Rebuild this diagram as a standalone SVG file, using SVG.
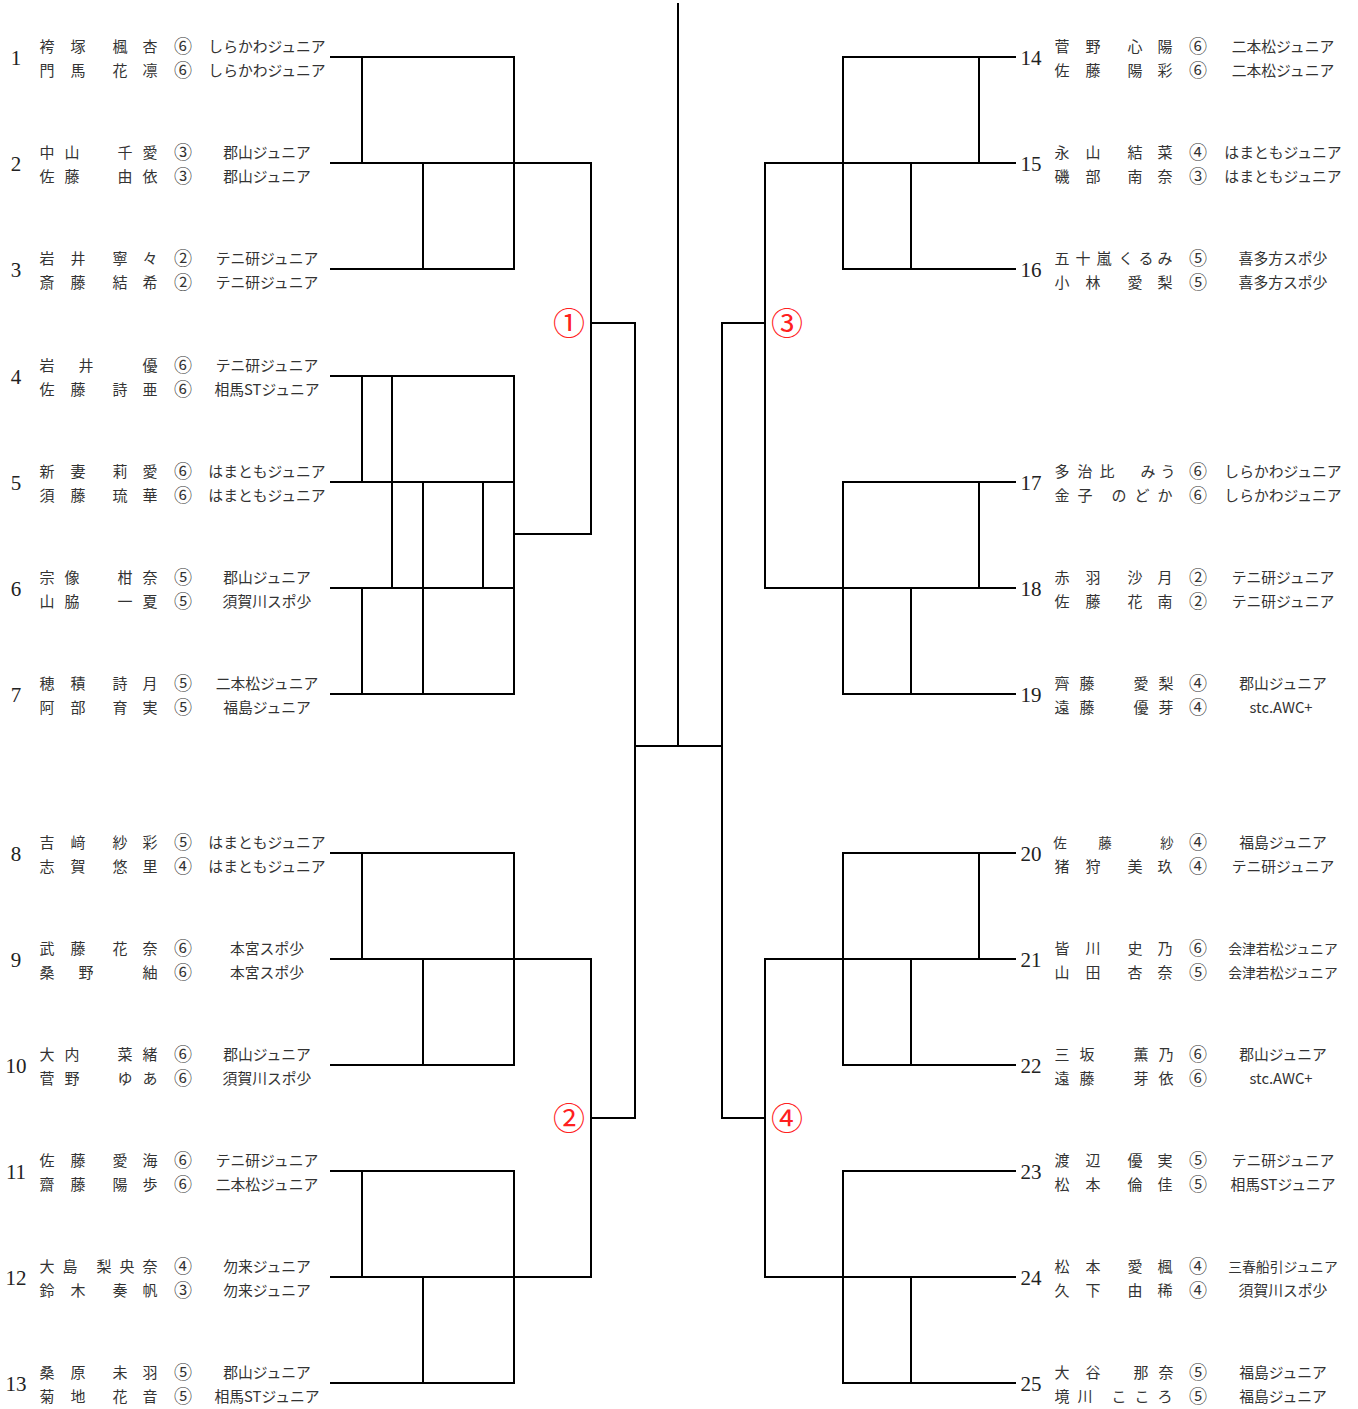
<svg xmlns="http://www.w3.org/2000/svg" width="1358" height="1409" viewBox="0 0 1358 1409">
<style>
.n{font-family:"Liberation Serif",serif;font-size:21px;text-anchor:middle;fill:#222}
.j{font-family:"Noto Sans CJK JP",sans-serif;font-size:15px;text-anchor:middle;fill:#333}
.g{font-family:"Noto Sans CJK JP",sans-serif;font-size:18px;text-anchor:middle;fill:#333}
.t{font-family:"Noto Sans CJK JP",sans-serif;font-size:14.8px;text-anchor:middle;fill:#333}
.ts{font-family:"Noto Sans CJK JP",sans-serif;font-size:13.8px;text-anchor:middle;fill:#333}
.js{font-family:"Noto Sans CJK JP",sans-serif;font-size:13.5px;text-anchor:middle;fill:#333}
.r{font-family:"Noto Sans CJK JP",sans-serif;font-size:32px;text-anchor:middle;fill:#ff2020}
.c path{fill:none;stroke:#000;stroke-width:2;stroke-linecap:square}
</style>
<rect width="1358" height="1409" fill="#fff"/>
<g class="c" id="connectors">
<path d="M678 4V746M635 746H722"/>
<path d="M635 323V1118M591 323H635M591 1118H635"/>
<path d="M722 323V1118M722 323H765M722 1118H765"/>
<path d="M331 57H514M362 57V163M514 57V269M331 163H591M423 163V269M331 269H514M591 163V534M514 534H591"/>
<path d="M331 376H514M362 376V482M392 376V588M514 376V694M331 482H514M423 482V694M483 482V588M331 588H514M362 588V694M331 694H514"/>
<path d="M331 853H514M362 853V959M514 853V1065M331 959H591M423 959V1065M331 1065H514M591 959V1277"/>
<path d="M331 1171H514M362 1171V1277M514 1171V1383M331 1277H591M423 1277V1383M331 1383H514"/>
<path d="M843 57H1015M843 57V269M979 57V163M765 163H1015M911 163V269M843 269H1015M765 163V588"/>
<path d="M843 482H1015M843 482V694M979 482V588M765 588H1015M911 588V694M843 694H1015"/>
<path d="M843 853H1015M843 853V1065M979 853V959M765 959H1015M911 959V1065M843 1065H1015M765 959V1277"/>
<path d="M843 1171H1015M843 1171V1383M765 1277H1015M911 1277V1383M843 1383H1015"/>
</g>
<g id="round-labels">
<text class="r" x="569" y="335">①</text>
<text class="r" x="569" y="1130">②</text>
<text class="r" x="787" y="335">③</text>
<text class="r" x="787" y="1130">④</text>
</g>
<g id="e1"><text class="n" x="16" y="65">1</text><text class="j" x="47 78 120 150" y="52">袴塚楓杏</text><text class="g" x="183" y="53">⑥</text><text class="t" x="267" y="52">しらかわジュニア</text><text class="j" x="47 78 120 150" y="76">門馬花凛</text><text class="g" x="183" y="77">⑥</text><text class="t" x="267" y="76">しらかわジュニア</text></g>
<g id="e2"><text class="n" x="16" y="171">2</text><text class="j" x="47 72 125 150" y="158">中山千愛</text><text class="g" x="183" y="159">③</text><text class="t" x="267" y="158">郡山ジュニア</text><text class="j" x="47 72 125 150" y="182">佐藤由依</text><text class="g" x="183" y="183">③</text><text class="t" x="267" y="182">郡山ジュニア</text></g>
<g id="e3"><text class="n" x="16" y="277">3</text><text class="j" x="47 78 120 150" y="264">岩井寧々</text><text class="g" x="183" y="265">②</text><text class="t" x="267" y="264">テニ研ジュニア</text><text class="j" x="47 78 120 150" y="288">斎藤結希</text><text class="g" x="183" y="289">②</text><text class="t" x="267" y="288">テニ研ジュニア</text></g>
<g id="e4"><text class="n" x="16" y="384">4</text><text class="j" x="47 86 150" y="371">岩井優</text><text class="g" x="183" y="372">⑥</text><text class="t" x="267" y="371">テニ研ジュニア</text><text class="j" x="47 78 120 150" y="395">佐藤詩亜</text><text class="g" x="183" y="396">⑥</text><text class="t" x="267" y="395">相馬STジュニア</text></g>
<g id="e5"><text class="n" x="16" y="490">5</text><text class="j" x="47 78 120 150" y="477">新妻莉愛</text><text class="g" x="183" y="478">⑥</text><text class="t" x="267" y="477">はまともジュニア</text><text class="j" x="47 78 120 150" y="501">須藤琉華</text><text class="g" x="183" y="502">⑥</text><text class="t" x="267" y="501">はまともジュニア</text></g>
<g id="e6"><text class="n" x="16" y="596">6</text><text class="j" x="47 72 125 150" y="583">宗像柑奈</text><text class="g" x="183" y="584">⑤</text><text class="t" x="267" y="583">郡山ジュニア</text><text class="j" x="47 72 125 150" y="607">山脇一夏</text><text class="g" x="183" y="608">⑤</text><text class="t" x="267" y="607">須賀川スポ少</text></g>
<g id="e7"><text class="n" x="16" y="702">7</text><text class="j" x="47 78 120 150" y="689">穂積詩月</text><text class="g" x="183" y="690">⑤</text><text class="t" x="267" y="689">二本松ジュニア</text><text class="j" x="47 78 120 150" y="713">阿部育実</text><text class="g" x="183" y="714">⑤</text><text class="t" x="267" y="713">福島ジュニア</text></g>
<g id="e8"><text class="n" x="16" y="861">8</text><text class="j" x="47 78 120 150" y="848">吉﨑紗彩</text><text class="g" x="183" y="849">⑤</text><text class="t" x="267" y="848">はまともジュニア</text><text class="j" x="47 78 120 150" y="872">志賀悠里</text><text class="g" x="183" y="873">④</text><text class="t" x="267" y="872">はまともジュニア</text></g>
<g id="e9"><text class="n" x="16" y="967">9</text><text class="j" x="47 78 120 150" y="954">武藤花奈</text><text class="g" x="183" y="955">⑥</text><text class="t" x="267" y="954">本宮スポ少</text><text class="j" x="47 86 150" y="978">桑野紬</text><text class="g" x="183" y="979">⑥</text><text class="t" x="267" y="978">本宮スポ少</text></g>
<g id="e10"><text class="n" x="16" y="1073">10</text><text class="j" x="47 72 125 150" y="1060">大内菜緒</text><text class="g" x="183" y="1061">⑥</text><text class="t" x="267" y="1060">郡山ジュニア</text><text class="j" x="47 72 125 150" y="1084">菅野ゆあ</text><text class="g" x="183" y="1085">⑥</text><text class="t" x="267" y="1084">須賀川スポ少</text></g>
<g id="e11"><text class="n" x="16" y="1179">11</text><text class="j" x="47 78 120 150" y="1166">佐藤愛海</text><text class="g" x="183" y="1167">⑥</text><text class="t" x="267" y="1166">テニ研ジュニア</text><text class="j" x="47 78 120 150" y="1190">齋藤陽歩</text><text class="g" x="183" y="1191">⑥</text><text class="t" x="267" y="1190">二本松ジュニア</text></g>
<g id="e12"><text class="n" x="16" y="1285">12</text><text class="j" x="47 70 104 127 150" y="1272">大島梨央奈</text><text class="g" x="183" y="1273">④</text><text class="t" x="267" y="1272">勿来ジュニア</text><text class="j" x="47 78 120 150" y="1296">鈴木奏帆</text><text class="g" x="183" y="1297">③</text><text class="t" x="267" y="1296">勿来ジュニア</text></g>
<g id="e13"><text class="n" x="16" y="1391">13</text><text class="j" x="47 78 120 150" y="1378">桑原未羽</text><text class="g" x="183" y="1379">⑤</text><text class="t" x="267" y="1378">郡山ジュニア</text><text class="j" x="47 78 120 150" y="1402">菊地花音</text><text class="g" x="183" y="1403">⑤</text><text class="t" x="267" y="1402">相馬STジュニア</text></g>
<g id="e14"><text class="n" x="1031" y="65">14</text><text class="j" x="1062 1093 1135 1165" y="52">菅野心陽</text><text class="g" x="1198" y="53">⑥</text><text class="t" x="1283" y="52">二本松ジュニア</text><text class="j" x="1062 1093 1135 1165" y="76">佐藤陽彩</text><text class="g" x="1198" y="77">⑥</text><text class="t" x="1283" y="76">二本松ジュニア</text></g>
<g id="e15"><text class="n" x="1031" y="171">15</text><text class="j" x="1062 1093 1135 1165" y="158">永山結菜</text><text class="g" x="1198" y="159">④</text><text class="t" x="1283" y="158">はまともジュニア</text><text class="j" x="1062 1093 1135 1165" y="182">磯部南奈</text><text class="g" x="1198" y="183">③</text><text class="t" x="1283" y="182">はまともジュニア</text></g>
<g id="e16"><text class="n" x="1031" y="277">16</text><text class="j" x="1062 1083 1104 1126 1146 1165" y="264">五十嵐くるみ</text><text class="g" x="1198" y="265">⑤</text><text class="t" x="1283" y="264">喜多方スポ少</text><text class="j" x="1062 1093 1135 1165" y="288">小林愛梨</text><text class="g" x="1198" y="289">⑤</text><text class="t" x="1283" y="288">喜多方スポ少</text></g>
<g id="e17"><text class="n" x="1031" y="490">17</text><text class="j" x="1062 1085 1107 1148 1168" y="477">多治比みう</text><text class="g" x="1198" y="478">⑥</text><text class="t" x="1283" y="477">しらかわジュニア</text><text class="j" x="1062 1085 1119 1142 1165" y="501">金子のどか</text><text class="g" x="1198" y="502">⑥</text><text class="t" x="1283" y="501">しらかわジュニア</text></g>
<g id="e18"><text class="n" x="1031" y="596">18</text><text class="j" x="1062 1093 1135 1165" y="583">赤羽沙月</text><text class="g" x="1198" y="584">②</text><text class="t" x="1283" y="583">テニ研ジュニア</text><text class="j" x="1062 1093 1135 1165" y="607">佐藤花南</text><text class="g" x="1198" y="608">②</text><text class="t" x="1283" y="607">テニ研ジュニア</text></g>
<g id="e19"><text class="n" x="1031" y="702">19</text><text class="j" x="1062 1087 1141 1166" y="689">齊藤愛梨</text><text class="g" x="1198" y="690">④</text><text class="t" x="1283" y="689">郡山ジュニア</text><text class="j" x="1062 1087 1141 1166" y="713">遠藤優芽</text><text class="g" x="1198" y="714">④</text><text class="t" x="1281" y="713">stc.AWC+</text></g>
<g id="e20"><text class="n" x="1031" y="861">20</text><text class="js" x="1060 1105 1167" y="848">佐藤紗</text><text class="g" x="1198" y="849">④</text><text class="t" x="1283" y="848">福島ジュニア</text><text class="j" x="1062 1093 1135 1165" y="872">猪狩美玖</text><text class="g" x="1198" y="873">④</text><text class="t" x="1283" y="872">テニ研ジュニア</text></g>
<g id="e21"><text class="n" x="1031" y="967">21</text><text class="j" x="1062 1093 1135 1165" y="954">皆川史乃</text><text class="g" x="1198" y="955">⑥</text><text class="ts" x="1283" y="954">会津若松ジュニア</text><text class="j" x="1062 1093 1135 1165" y="978">山田杏奈</text><text class="g" x="1198" y="979">⑤</text><text class="ts" x="1283" y="978">会津若松ジュニア</text></g>
<g id="e22"><text class="n" x="1031" y="1073">22</text><text class="j" x="1062 1087 1141 1166" y="1060">三坂薫乃</text><text class="g" x="1198" y="1061">⑥</text><text class="t" x="1283" y="1060">郡山ジュニア</text><text class="j" x="1062 1087 1141 1166" y="1084">遠藤芽依</text><text class="g" x="1198" y="1085">⑥</text><text class="t" x="1281" y="1084">stc.AWC+</text></g>
<g id="e23"><text class="n" x="1031" y="1179">23</text><text class="j" x="1062 1093 1135 1165" y="1166">渡辺優実</text><text class="g" x="1198" y="1167">⑤</text><text class="t" x="1283" y="1166">テニ研ジュニア</text><text class="j" x="1062 1093 1135 1165" y="1190">松本倫佳</text><text class="g" x="1198" y="1191">⑤</text><text class="t" x="1283" y="1190">相馬STジュニア</text></g>
<g id="e24"><text class="n" x="1031" y="1285">24</text><text class="j" x="1062 1093 1135 1165" y="1272">松本愛楓</text><text class="g" x="1198" y="1273">④</text><text class="ts" x="1283" y="1272">三春船引ジュニア</text><text class="j" x="1062 1093 1135 1165" y="1296">久下由稀</text><text class="g" x="1198" y="1297">④</text><text class="t" x="1283" y="1296">須賀川スポ少</text></g>
<g id="e25"><text class="n" x="1031" y="1391">25</text><text class="j" x="1062 1093 1141 1166" y="1378">大谷那奈</text><text class="g" x="1198" y="1379">⑤</text><text class="t" x="1283" y="1378">福島ジュニア</text><text class="j" x="1062 1085 1119 1142 1165" y="1402">境川こころ</text><text class="g" x="1198" y="1403">⑤</text><text class="t" x="1283" y="1402">福島ジュニア</text></g>
</svg>
